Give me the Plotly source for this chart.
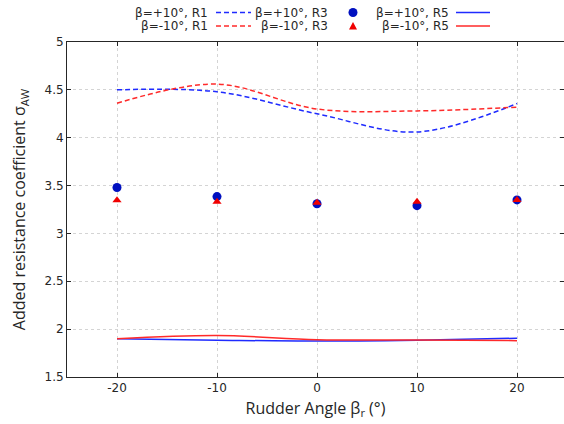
import plotly.graph_objects as go

angles = [-20, -10, 0, 10, 20]
r1_pos = [4.50, 4.48, 4.25, 4.06, 4.357]
r1_neg = [4.36, 4.56, 4.30, 4.28, 4.32]
r3_pos = [3.48, 3.385, 3.31, 3.29, 3.35]
r3_neg = [3.347, 3.33, 3.32, 3.33, 3.35]
r5_pos = [1.90, 1.885, 1.875, 1.885, 1.905]
r5_neg = [1.90, 1.934, 1.89, 1.886, 1.88]
yticks = [1.5, 2, 2.5, 3, 3.5, 4, 4.5, 5]
xticks = [-20, -10, 0, 10, 20]

BLUE = "#1f2bff"
RED = "#ff2a2a"
MBLUE = "#0010c0"
MRED = "#f00000"

fig = go.Figure()
fig.add_trace(go.Scatter(x=angles, y=r1_pos, mode="lines", line=dict(color=BLUE, width=1.5, dash="5px,3px", shape="spline", smoothing=1.0), name="β=+10°, R1"))
fig.add_trace(go.Scatter(x=angles, y=r1_neg, mode="lines", line=dict(color=RED, width=1.5, dash="5px,3px", shape="spline", smoothing=1.0), name="β=-10°, R1"))
fig.add_trace(go.Scatter(x=angles, y=r5_pos, mode="lines", line=dict(color=BLUE, width=1.5, shape="spline", smoothing=1.0), name="β=+10°, R5"))
fig.add_trace(go.Scatter(x=angles, y=r5_neg, mode="lines", line=dict(color=RED, width=1.5, shape="spline", smoothing=1.0), name="β=-10°, R5"))
fig.add_trace(go.Scatter(x=angles, y=r3_pos, mode="markers", marker=dict(color=MBLUE, size=9, symbol="circle"), name="β=+10°, R3"))
fig.add_trace(go.Scatter(x=angles, y=r3_neg, mode="markers", marker=dict(color=MRED, size=8, symbol="triangle-up"), name="β=-10°, R3"))

L, T, B = 67, 42, 47
W, H = 564, 424
pw = W - L
ph = H - T - B

def px(x):
    return (x - L) / pw

def py(y):
    return (H - B - y) / ph

ann = []
shapes = []
font = dict(family="DejaVu Sans", size=12, color="#262626")
rows = [12.5, 26]
labels = [["β=+10°, R1", "β=+10°, R3", "β=+10°, R5"], ["β=-10°, R1", "β=-10°, R3", "β=-10°, R5"]]
text_right = [210, 330, 451]
for ri, yy in enumerate(rows):
    for ci in range(3):
        ann.append(dict(x=px(text_right[ci]), y=py(yy), xref="paper", yref="paper", text=labels[ri][ci],
                        showarrow=False, xanchor="right", yanchor="middle", font=font))
    col = BLUE if ri == 0 else RED
    shapes.append(dict(type="line", xref="paper", yref="paper", x0=px(216), x1=px(251), y0=py(yy), y1=py(yy),
                       line=dict(color=col, width=1.5, dash="5px,3px")))
    shapes.append(dict(type="line", xref="paper", yref="paper", x0=px(456), x1=px(490), y0=py(yy), y1=py(yy),
                       line=dict(color=col, width=1.5)))
cx = 353
shapes.append(dict(type="circle", xref="paper", yref="paper", x0=px(cx - 4.5), x1=px(cx + 4.5), y0=py(rows[0] + 4.5), y1=py(rows[0] - 4.5),
                   fillcolor=MBLUE, line=dict(width=0)))
ty = rows[1]
shapes.append(dict(type="path", xref="paper", yref="paper",
                   path=f"M {px(cx-4)} {py(ty+3.5)} L {px(cx+4)} {py(ty+3.5)} L {px(cx)} {py(ty-4)} Z",
                   fillcolor=MRED, line=dict(width=0)))

axis_common = dict(showline=True, linecolor="#262626", linewidth=1, mirror="allticks", ticks="inside", ticklen=4,
                   tickcolor="#262626", showgrid=True, gridcolor="#d4d4d4", griddash="dot", gridwidth=1,
                   zeroline=False, tickfont=dict(family="DejaVu Sans", size=12, color="#262626"))

title_font = dict(family="Open Sans", size=16, color="#262626")

fig.update_layout(
    width=W, height=H,
    margin=dict(l=L, r=0, t=T, b=B, autoexpand=False),
    paper_bgcolor="white", plot_bgcolor="white",
    showlegend=False,
    xaxis=dict(range=[-25, 24.7], tickvals=xticks, ticktext=[str(v) for v in xticks],
               title=dict(text="Rudder Angle β<sub>r</sub> (°)", font=title_font, standoff=8),
               **axis_common),
    yaxis=dict(range=[1.5, 5], tickvals=yticks, ticktext=[f"{v:g}" for v in yticks],
               title=dict(text="Added resistance coefficient σ<sub>AW</sub>", font=title_font, standoff=14),
               **axis_common),
    annotations=ann,
    shapes=shapes,
)

fig.write_html("out.html", config={"displayModeBar": False},
               post_script="document.body.style.margin='0';document.body.style.overflow='hidden';")
